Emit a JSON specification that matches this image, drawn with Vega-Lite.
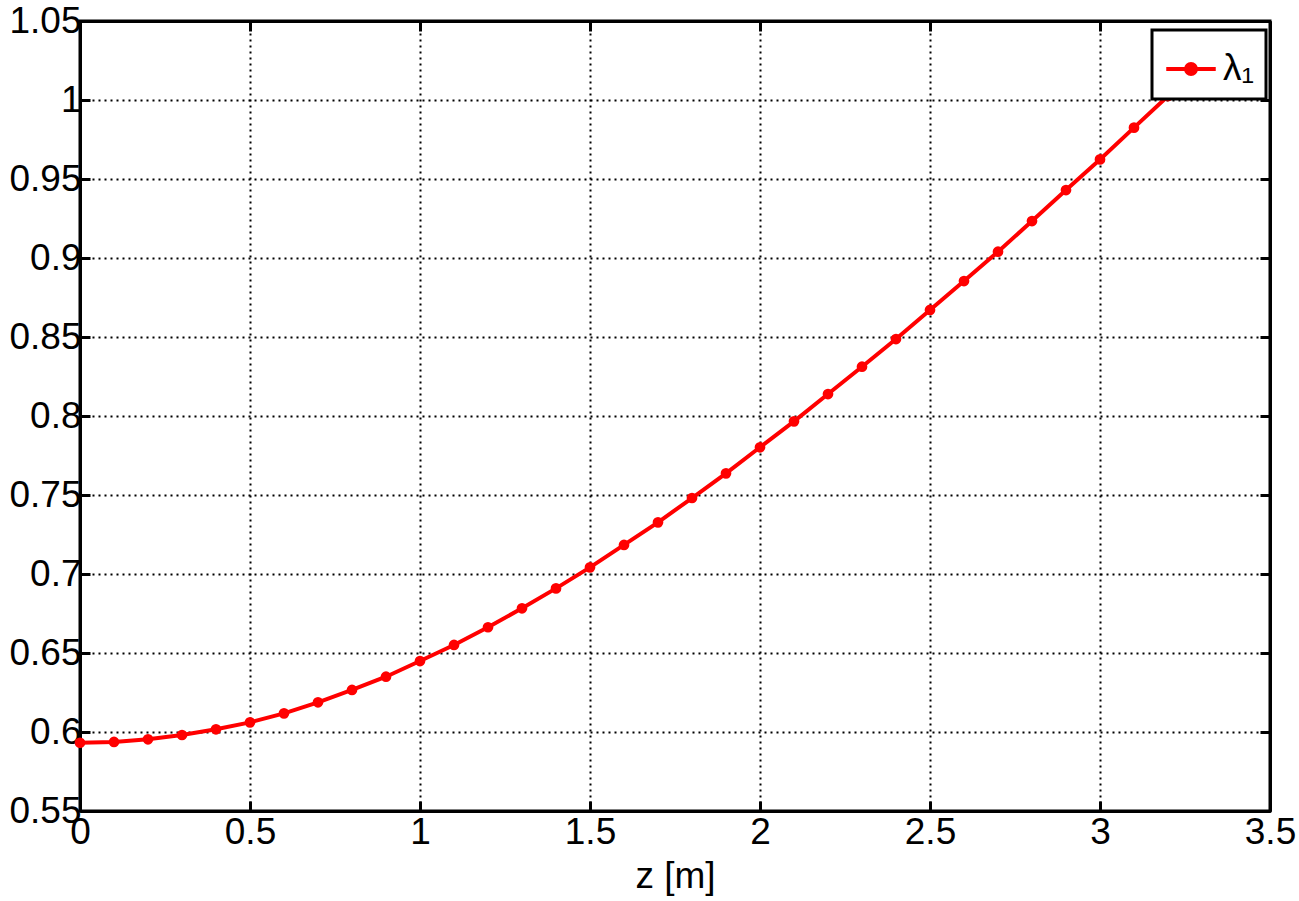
{
  "$schema": "https://vega.github.io/schema/vega-lite/v6.json",
  "width": 1190,
  "height": 790,
  "autosize": {"type": "none"},
  "padding": {"left": 80, "top": 21, "right": 29, "bottom": 90},
  "background": "white",
  "data": {
    "values": [
      {"z": 0.0, "v": 0.5932, "s": "λ₁"},
      {"z": 0.1, "v": 0.5937, "s": "λ₁"},
      {"z": 0.2, "v": 0.5954, "s": "λ₁"},
      {"z": 0.3, "v": 0.5981, "s": "λ₁"},
      {"z": 0.4, "v": 0.6017, "s": "λ₁"},
      {"z": 0.5, "v": 0.6061, "s": "λ₁"},
      {"z": 0.6, "v": 0.6118, "s": "λ₁"},
      {"z": 0.7, "v": 0.6188, "s": "λ₁"},
      {"z": 0.8, "v": 0.6266, "s": "λ₁"},
      {"z": 0.9, "v": 0.6350, "s": "λ₁"},
      {"z": 1.0, "v": 0.6449, "s": "λ₁"},
      {"z": 1.1, "v": 0.6551, "s": "λ₁"},
      {"z": 1.2, "v": 0.6663, "s": "λ₁"},
      {"z": 1.3, "v": 0.6783, "s": "λ₁"},
      {"z": 1.4, "v": 0.6909, "s": "λ₁"},
      {"z": 1.5, "v": 0.7042, "s": "λ₁"},
      {"z": 1.6, "v": 0.7184, "s": "λ₁"},
      {"z": 1.7, "v": 0.7327, "s": "λ₁"},
      {"z": 1.8, "v": 0.7481, "s": "λ₁"},
      {"z": 1.9, "v": 0.7637, "s": "λ₁"},
      {"z": 2.0, "v": 0.7802, "s": "λ₁"},
      {"z": 2.1, "v": 0.7966, "s": "λ₁"},
      {"z": 2.2, "v": 0.8139, "s": "λ₁"},
      {"z": 2.3, "v": 0.8312, "s": "λ₁"},
      {"z": 2.4, "v": 0.8487, "s": "λ₁"},
      {"z": 2.5, "v": 0.8671, "s": "λ₁"},
      {"z": 2.6, "v": 0.8854, "s": "λ₁"},
      {"z": 2.7, "v": 0.9040, "s": "λ₁"},
      {"z": 2.8, "v": 0.9234, "s": "λ₁"},
      {"z": 2.9, "v": 0.9430, "s": "λ₁"},
      {"z": 3.0, "v": 0.9624, "s": "λ₁"},
      {"z": 3.1, "v": 0.9825, "s": "λ₁"},
      {"z": 3.2, "v": 1.0025, "s": "λ₁"}
    ]
  },
  "layer": [
    {
      "mark": {"type": "line", "strokeWidth": 4, "point": {"filled": true, "size": 115}},
      "encoding": {
        "x": {
          "field": "z", "type": "quantitative",
          "scale": {"domain": [0, 3.5], "nice": false, "zero": false},
          "axis": {"values": [0, 0.5, 1, 1.5, 2, 2.5, 3, 3.5], "format": "~g", "title": "z [m]", "grid": true, "labelPadding": 13, "titlePadding": 8}
        },
        "y": {
          "field": "v", "type": "quantitative",
          "scale": {"domain": [0.55, 1.05], "nice": false, "zero": false},
          "axis": {"values": [0.55, 0.6, 0.65, 0.7, 0.75, 0.8, 0.85, 0.9, 0.95, 1, 1.05], "format": "~g", "title": null, "grid": true, "labelPadding": 9}
        },
        "color": {
          "field": "s", "type": "nominal",
          "scale": {"domain": ["λ₁"], "range": ["#ff0000"]},
          "legend": {
            "title": null,
            "orient": "none",
            "legendX": 1072,
            "legendY": 9,
            "symbolType": "M-1,0L1,0M-0.2,0A0.2,0.2,0,1,1,0.2,0A0.2,0.2,0,1,1,-0.2,0Z",
            "symbolSize": 2450,
            "symbolStrokeWidth": 4,
            "symbolFillColor": "#ff0000",
            "symbolStrokeColor": "#ff0000",
            "labelFontSize": 37,
            "labelFont": "Liberation Sans",
            "labelColor": "black",
            "labelLimit": 200,
            "labelOffset": 5,
            "fillColor": "white",
            "strokeColor": "black",
            "padding": 12,
            "cornerRadius": 0,
            "encode": {"legend": {"update": {"strokeWidth": {"value": 3}}}}
          }
        }
      }
    },
    {
      "mark": {"type": "point", "opacity": 0},
      "encoding": {
        "x": {
          "field": "z", "type": "quantitative",
          "axis": {"orient": "top", "values": [0, 0.5, 1, 1.5, 2, 2.5, 3, 3.5], "labels": false, "title": null, "grid": false}
        },
        "y": {
          "field": "v", "type": "quantitative",
          "axis": {"orient": "right", "values": [0.55, 0.6, 0.65, 0.7, 0.75, 0.8, 0.85, 0.9, 0.95, 1, 1.05], "labels": false, "title": null, "grid": false}
        }
      }
    }
  ],
  "resolve": {"axis": {"x": "independent", "y": "independent"}},
  "config": {
    "view": {"stroke": "black", "strokeWidth": 3},
    "axis": {
      "domainColor": "black",
      "domainWidth": 3,
      "tickColor": "black",
      "tickWidth": 3,
      "tickSize": -10,
      "gridColor": "black",
      "gridWidth": 2,
      "gridDash": [2, 4],
      "gridOpacity": 1,
      "labelFont": "Liberation Sans",
      "labelFontSize": 37,
      "labelColor": "black",
      "labelPadding": 8,
      "titleFont": "Liberation Sans",
      "titleFontSize": 37,
      "titleFontWeight": "normal",
      "titleColor": "black",
      "labelOverlap": false,
      "labelFlush": false
    }
  }
}
